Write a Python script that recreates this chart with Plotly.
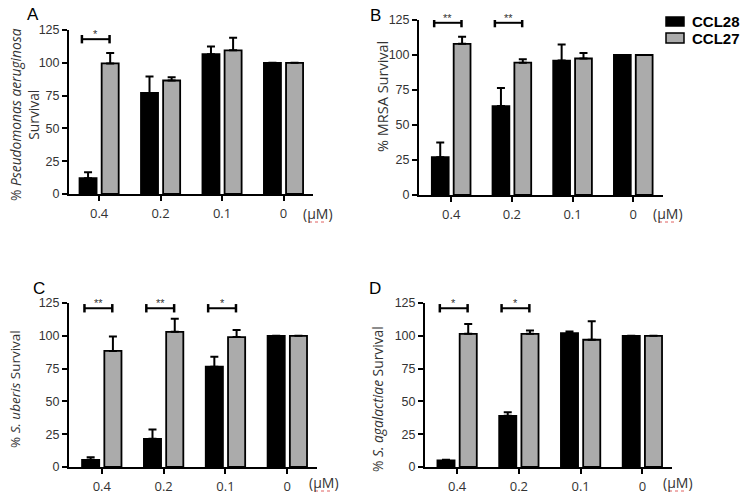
import plotly.graph_objects as go

# ---------------- data ----------------
categories = ["0.4", "0.2", "0.1", "0"]
series_names = ["CCL28", "CCL27"]
y_ticks = [0, 25, 50, 75, 100, 125]

a_ccl28 = [12, 77, 106.5, 100]
a_ccl28_err = [4.5, 12.5, 6, 0]
a_ccl27 = [99.5, 86.5, 109.5, 100]
a_ccl27_err = [8, 2.5, 9.5, 0]
a_sig_idx = [0]
a_sig_txt = ["*"]

b_ccl28 = [27, 63.5, 96, 100]
b_ccl28_err = [10.5, 13, 11.5, 0]
b_ccl27 = [108, 94.5, 97.5, 100]
b_ccl27_err = [5, 2.5, 4, 0]
b_sig_idx = [0, 1]
b_sig_txt = ["**", "**"]

c_ccl28 = [5.5, 21.5, 76.5, 100]
c_ccl28_err = [2, 7, 7.5, 0]
c_ccl27 = [88.5, 103, 99, 100]
c_ccl27_err = [11, 10, 5.5, 0]
c_sig_idx = [0, 1, 2]
c_sig_txt = ["**", "**", "*"]

d_ccl28 = [5, 39, 102, 100]
d_ccl28_err = [0.6, 2.8, 1.3, 0]
d_ccl27 = [101.5, 101.5, 97, 100]
d_ccl27_err = [7.5, 2.5, 14, 0]
d_sig_idx = [0, 1]
d_sig_txt = ["*", "*"]

# ---------------- layout constants ----------------
W, H = 744, 498
BLACK = "#000000"
GREY = "#ababab"
TXT = "#333333"
series_colors = [BLACK, GREY]

panels = [
    dict(key="", ccl28=a_ccl28, e28=a_ccl28_err, ccl27=a_ccl27, e27=a_ccl27_err,
         sig_idx=a_sig_idx, sig_txt=a_sig_txt, sig_y=118,
         px=(69, 313), py=(30, 194), xr=[-0.49, 3.48],
         letter="A", letter_pos=(33, 14),
         title="% <i>Pseudomonas aeruginosa</i><br>Survival", title_pos=(25, 115),
         title_size=13.8, um_pos=(318, 213)),
    dict(key="2", ccl28=b_ccl28, e28=b_ccl28_err, ccl27=b_ccl27, e27=b_ccl27_err,
         sig_idx=b_sig_idx, sig_txt=b_sig_txt, sig_y=123,
         px=(419, 663), py=(20, 195), xr=[-0.53, 3.49],
         letter="B", letter_pos=(375, 15),
         title="% MRSA Survival", title_pos=(383, 97),
         title_size=14.5, um_pos=(668, 213)),
    dict(key="3", ccl28=c_ccl28, e28=c_ccl28_err, ccl27=c_ccl27, e27=c_ccl27_err,
         sig_idx=c_sig_idx, sig_txt=c_sig_txt, sig_y=121,
         px=(69, 317), py=(303, 467), xr=[-0.53, 3.48],
         letter="C", letter_pos=(39, 288),
         title="% <i>S. uberis</i> Survival", title_pos=(15, 389),
         title_size=13.5, um_pos=(324, 482)),
    dict(key="4", ccl28=d_ccl28, e28=d_ccl28_err, ccl27=d_ccl27, e27=d_ccl27_err,
         sig_idx=d_sig_idx, sig_txt=d_sig_txt, sig_y=121,
         px=(425, 672), py=(303, 467), xr=[-0.52, 3.48],
         letter="D", letter_pos=(375, 288),
         title="% <i>S. agalactiae</i> Survival", title_pos=(377, 399),
         title_size=13.8, um_pos=(678, 482)),
]

fig = go.Figure()
annotations = []
shapes = []

for pi, p in enumerate(panels):
    xa = "x" + p["key"]
    ya = "y" + p["key"]
    for name, vals, errs, col in [(series_names[0], p["ccl28"], p["e28"], series_colors[0]),
                                  (series_names[1], p["ccl27"], p["e27"], series_colors[1])]:
        fig.add_trace(go.Bar(
            x=categories, y=vals, name=name, legendgroup=name,
            showlegend=False,
            marker=dict(color=col, line=dict(color=BLACK, width=1.8)),
            error_y=dict(type="data", symmetric=False, array=errs,
                         arrayminus=[0] * len(errs), color=BLACK,
                         thickness=2, width=4),
            xaxis=xa, yaxis=ya,
        ))
    xd = [p["px"][0] / W, p["px"][1] / W]
    yd = [1 - p["py"][1] / H, 1 - p["py"][0] / H]
    axis_common = dict(showline=True, linecolor=BLACK, linewidth=2,
                       ticks="outside", ticklen=5, tickwidth=2, tickcolor=BLACK,
                       showgrid=False, zeroline=False, automargin=False)
    xname = "xaxis" + p["key"]
    yname = "yaxis" + p["key"]
    fig.layout[xname] = dict(domain=xd, anchor=ya, type="category",
                             categoryorder="array", categoryarray=categories,
                             range=p["xr"], ticklabelstandoff=1,
                             tickfont=dict(family="Open Sans", size=13, color=TXT),
                             **axis_common)
    fig.layout[yname] = dict(domain=yd, anchor=xa, range=[0, 125],
                             tickvals=y_ticks,
                             tickfont=dict(family="Liberation Sans", size=12.5, color=TXT),
                             **axis_common)
    # significance brackets
    tick_h = 3.2
    for idx, txt in zip(p["sig_idx"], p["sig_txt"]):
        x0 = idx - 0.28
        x1 = idx + 0.17
        yb = p["sig_y"]
        shapes.append(dict(type="line", xref=xa, yref=ya, x0=x0, x1=x1,
                           y0=yb, y1=yb, line=dict(color=BLACK, width=2)))
        for xx in (x0, x1):
            shapes.append(dict(type="line", xref=xa, yref=ya, x0=xx, x1=xx,
                               y0=yb - tick_h, y1=yb + tick_h,
                               line=dict(color=BLACK, width=2.5)))
        annotations.append(dict(x=(x0 + x1) / 2, y=yb, xref=xa, yref=ya,
                                text=txt, showarrow=False, yanchor="bottom",
                                yshift=-3,
                                font=dict(family="Liberation Sans", size=11, color=TXT)))
    # panel letter
    annotations.append(dict(x=p["letter_pos"][0] / W, y=1 - p["letter_pos"][1] / H,
                            xref="paper", yref="paper", text=p["letter"],
                            showarrow=False, xanchor="center", yanchor="middle",
                            font=dict(family="Liberation Sans", size=17, color=BLACK)))
    # y title
    annotations.append(dict(x=p["title_pos"][0] / W, y=1 - p["title_pos"][1] / H,
                            xref="paper", yref="paper", text=p["title"],
                            textangle=-90, showarrow=False,
                            xanchor="center", yanchor="middle",
                            font=dict(family="Open Sans", size=p["title_size"], color=TXT)))
    # unit label
    annotations.append(dict(x=p["um_pos"][0] / W, y=1 - p["um_pos"][1] / H,
                            xref="paper", yref="paper", text="(µM)",
                            showarrow=False, xanchor="center", yanchor="middle",
                            font=dict(family="Open Sans", size=14, color=TXT)))
    # spell-check squiggle under µM
    ux = p["um_pos"][0]
    uy = p["um_pos"][1] + 9
    shapes.append(dict(type="line", xref="paper", yref="paper",
                       x0=(ux - 9) / W, x1=(ux + 9) / W,
                       y0=1 - uy / H, y1=1 - uy / H,
                       line=dict(color="#e06060", width=1, dash="dot")))

# manual legend (built from series names / colours)
leg_x0, leg_x1 = 666, 684
leg_rows = [(17, 26), (33, 43)]
for name, col, (r0, r1) in zip(series_names, series_colors, leg_rows):
    shapes.append(dict(type="rect", xref="paper", yref="paper",
                       x0=leg_x0 / W, x1=leg_x1 / W, y0=1 - r1 / H, y1=1 - r0 / H,
                       fillcolor=col, line=dict(color=BLACK, width=1.5)))
    annotations.append(dict(x=690 / W, y=1 - ((r0 + r1) / 2) / H,
                            xref="paper", yref="paper", text="<b>%s</b>" % name,
                            showarrow=False, xanchor="left", yanchor="middle",
                            font=dict(family="Liberation Sans", size=15, color=BLACK)))

fig.update_layout(
    width=W, height=H,
    margin=dict(l=0, r=0, t=0, b=0),
    paper_bgcolor="white", plot_bgcolor="white",
    barmode="group", bargap=0.28, bargroupgap=0.23,
    showlegend=False,
    annotations=annotations,
    shapes=shapes,
)

fig.write_html(
    "out.html",
    config={"displayModeBar": False},
    post_script="document.body.style.margin='0';document.body.style.overflow='hidden';",
)
